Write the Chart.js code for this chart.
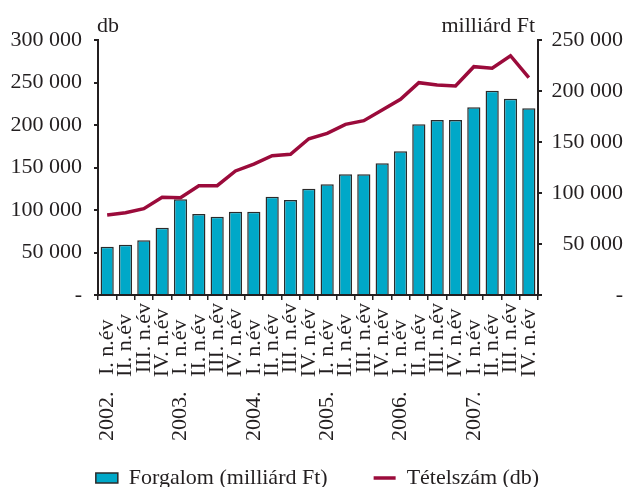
<!DOCTYPE html>
<html>
<head>
<meta charset="utf-8">
<script src="https://cdn.jsdelivr.net/npm/chart.js@4/dist/chart.umd.min.js"></script>
<style>
html,body{margin:0;padding:0;background:#fff;}
canvas{display:block;}
</style>
</head>
<body>
<canvas id="c" width="628" height="487"></canvas>
<script>
// ---- data ----
const yearLabels = ['2002.', '', '', '', '2003.', '', '', '', '2004.', '', '', '', '2005.', '', '', '', '2006.', '', '', '', '2007.', '', '', ''];
const quarterLabels = ['I. n.év', 'II. n.év', 'III. n.év', 'IV. n.év', 'I. n.év', 'II. n.év', 'III. n.év', 'IV. n.év',
  'I. n.év', 'II. n.év', 'III. n.év', 'IV. n.év', 'I. n.év', 'II. n.év', 'III. n.év', 'IV. n.év',
  'I. n.év', 'II. n.év', 'III. n.év', 'IV. n.év', 'I. n.év', 'II. n.év', 'III. n.év', 'IV. n.év'];
// Forgalom (milliárd Ft) – bars, right axis
const forgalom = [47400, 49300, 53600, 66000, 93800, 79400, 76800, 81700, 81500, 96400, 93100, 104200,
  108500, 118300, 118300, 129100, 140900, 167300, 171600, 171600, 184000, 200300, 192500, 183000];
// Tételszám (db) – line, left axis
const tetelszam = [94100, 96800, 101600, 114900, 114500, 128600, 128600, 145900, 154100, 163900, 165500, 183800,
  190200, 200800, 205100, 217600, 230200, 249800, 247100, 245900, 268600, 266700, 281500, 255600];
const leftTickLabels = ['-', '50 000', '100 000', '150 000', '200 000', '250 000', '300 000'];
const rightTickLabels = ['-', '50 000', '100 000', '150 000', '200 000', '250 000'];
const leftUnit = 'db';
const rightUnit = 'milliárd Ft';
const seriesNames = ['Forgalom (milliárd Ft)', 'Tételszám (db)'];

// ---- styling ----
const FONT = "'Liberation Serif', 'Times New Roman', serif";
const TXT = '#231f20';
Chart.defaults.font.family = FONT;
Chart.defaults.color = TXT;

const mctx = document.createElement('canvas').getContext('2d');
mctx.font = "22px " + FONT;
const TARGET = 72;
function xLabel(i) {
  const q = quarterLabels[i];
  const qw = mctx.measureText(q).width;
  const sw = mctx.measureText(' ').width;
  const n = Math.max(0, Math.round((TARGET - qw) / sw));
  const y = yearLabels[i] ? yearLabels[i] + '   ' : '';
  return y + q + ' '.repeat(n);
}

const LEGEND_ITEM_TOP = 467;
const LEGEND_RESERVED = 46;
const LEGEND_SHIFT_X = 6;
const legendFix = {
  id: 'legendFix',
  beforeLayout(chart) {
    const lg = chart.legend;
    if (lg && !lg._fixedFit) {
      const orig = lg.fit;
      lg.fit = function () { orig.call(this); this.height = LEGEND_RESERVED; };
      lg._fixedFit = true;
    }
  },
  afterLayout(chart) {
    const lg = chart.legend;
    if (lg) {
      lg.top = LEGEND_ITEM_TOP - lg.options.labels.padding;
      lg.left += LEGEND_SHIFT_X;
      lg.right += LEGEND_SHIFT_X;
    }
  }
};

const unitTitles = {
  id: 'unitTitles',
  afterDraw(chart) {
    const {ctx, chartArea, scales} = chart;
    ctx.save();
    ctx.font = "22px " + FONT;
    ctx.fillStyle = TXT;
    ctx.textBaseline = 'alphabetic';
    ctx.textAlign = 'left';
    ctx.fillText(leftUnit, scales.y.right - 1, chartArea.top - 8);
    ctx.textAlign = 'right';
    ctx.fillText(rightUnit, scales.y1.left - 3, chartArea.top - 8);
    ctx.restore();
  }
};

new Chart(document.getElementById('c'), {
  type: 'bar',
  data: {
    labels: quarterLabels.map((q, i) => i),
    datasets: [
      {
        type: 'bar',
        label: seriesNames[0],
        data: forgalom,
        yAxisID: 'y1',
        backgroundColor: '#00A8C8',
        borderColor: '#2b2b2b',
        borderWidth: 1.5,
        pointStyle: 'rect',
        barPercentage: 0.72,
        categoryPercentage: 1,
        order: 1
      },
      {
        type: 'line',
        label: seriesNames[1],
        data: tetelszam,
        yAxisID: 'y',
        borderColor: '#9B0B3B',
        backgroundColor: '#9B0B3B',
        borderWidth: 3.5,
        pointRadius: 0,
        pointHoverRadius: 0,
        pointStyle: 'line',
        pointBorderColor: '#9B0B3B',
        pointBorderWidth: 3.5,
        tension: 0,
        fill: false,
        order: 0
      }
    ]
  },
  options: {
    responsive: false,
    animation: false,
    devicePixelRatio: 1,
    layout: { padding: { top: 40, right: 5, bottom: 0, left: 0 } },
    plugins: {
      tooltip: { enabled: false },
      legend: {
        position: 'bottom',
        labels: {
          usePointStyle: true,
          pointStyleWidth: 22,
          boxHeight: 10,
          padding: 46,
          color: TXT,
          font: { family: FONT, size: 22 },
          sort: (a, b) => a.datasetIndex - b.datasetIndex
        }
      }
    },
    scales: {
      x: {
        type: 'category',
        offset: true,
        grid: { display: true, drawOnChartArea: false, drawTicks: true, tickLength: 5, color: TXT, lineWidth: 1.5, offset: true },
        border: { display: true, color: TXT, width: 2 },
        ticks: {
          autoSkip: false, maxRotation: 90, minRotation: 90, padding: 3, color: TXT,
          font: { family: FONT, size: 22 },
          callback: (v, i) => xLabel(i)
        },
        afterFit: s => { s.height = 146; }
      },
      y: {
        position: 'left',
        min: 0, max: 300000,
        grid: { drawOnChartArea: false, drawTicks: true, tickLength: 4, color: TXT, lineWidth: 2 },
        border: { display: true, color: TXT, width: 2 },
        ticks: {
          stepSize: 50000, padding: 12, color: TXT,
          font: { family: FONT, size: 22 },
          callback: (v, i) => leftTickLabels[i]
        },
        afterFit: s => { s.width = 98; }
      },
      y1: {
        position: 'right',
        min: 0, max: 250000,
        grid: { drawOnChartArea: false, drawTicks: true, tickLength: 4, color: TXT, lineWidth: 2 },
        border: { display: true, color: TXT, width: 2 },
        ticks: {
          stepSize: 50000, padding: 12, crossAlign: 'far', color: TXT,
          font: { family: FONT, size: 22 },
          callback: (v, i) => rightTickLabels[i]
        },
        afterFit: s => { s.width = 85; }
      }
    }
  },
  plugins: [legendFix, unitTitles]
});
</script>
</body>
</html>
